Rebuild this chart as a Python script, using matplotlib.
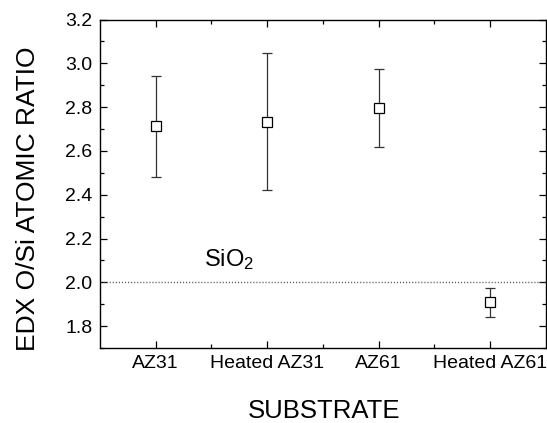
import matplotlib
matplotlib.use("Agg")
import matplotlib.pyplot as plt
from matplotlib.ticker import MultipleLocator, FixedLocator

plt.rcParams['font.family'] = ['Liberation Sans', 'DejaVu Sans']
plt.rcParams['mathtext.fontset'] = 'custom'
plt.rcParams['mathtext.rm'] = 'Liberation Sans'
plt.rcParams['mathtext.it'] = 'Liberation Sans:italic'

substrates = ["AZ31", "Heated AZ31", "AZ61", "Heated AZ61"]
ratio = [2.713, 2.733, 2.795, 1.908]
ratio_err = [0.23, 0.312, 0.178, 0.066]
sio2_ratio = 2.0

fig = plt.figure(figsize=(5.47, 4.23), dpi=100)
ax = fig.add_axes([0.1828, 0.1773, 0.8148, 0.7766])

x = list(range(1, len(substrates) + 1))
ax.axhline(sio2_ratio, color="#555555", linestyle=(0, (0.8, 1.4)), linewidth=1.0)
ax.errorbar(x, ratio, yerr=ratio_err, fmt="s", mfc="white", mec="black",
            mew=0.9, ms=6.5, ecolor="#333333", elinewidth=0.9,
            capsize=3.5, capthick=0.9)

ax.text(1.43, 2.074, r"SiO$_\mathregular{2}$", fontsize=17, ha="left", va="baseline")

ax.set_xlim(0.5, 4.5)
ax.set_ylim(1.7, 3.2)
ax.set_xticks(x)
ax.set_xticklabels(substrates)
ax.xaxis.set_minor_locator(FixedLocator([1.5, 2.5, 3.5]))
ax.yaxis.set_major_locator(MultipleLocator(0.2))
ax.yaxis.set_minor_locator(MultipleLocator(0.1))
ax.tick_params(which="both", direction="in", top=True, right=True,
               labelsize=14, width=0.9)
ax.tick_params(which="major", length=5)
ax.tick_params(which="minor", length=3)
ax.tick_params(axis="x", pad=5)
ax.tick_params(axis="y", pad=5.5)
for s in ax.spines.values():
    s.set_linewidth(1.0)

ax.set_ylabel("EDX O/Si ATOMIC RATIO", fontsize=19, va="center")
ax.yaxis.set_label_coords(-0.162, 0.455)
ax.set_xlabel("SUBSTRATE", fontsize=18.5, va="center")
ax.xaxis.set_label_coords(0.503, -0.192)

fig.savefig("out.png", dpi=100)
